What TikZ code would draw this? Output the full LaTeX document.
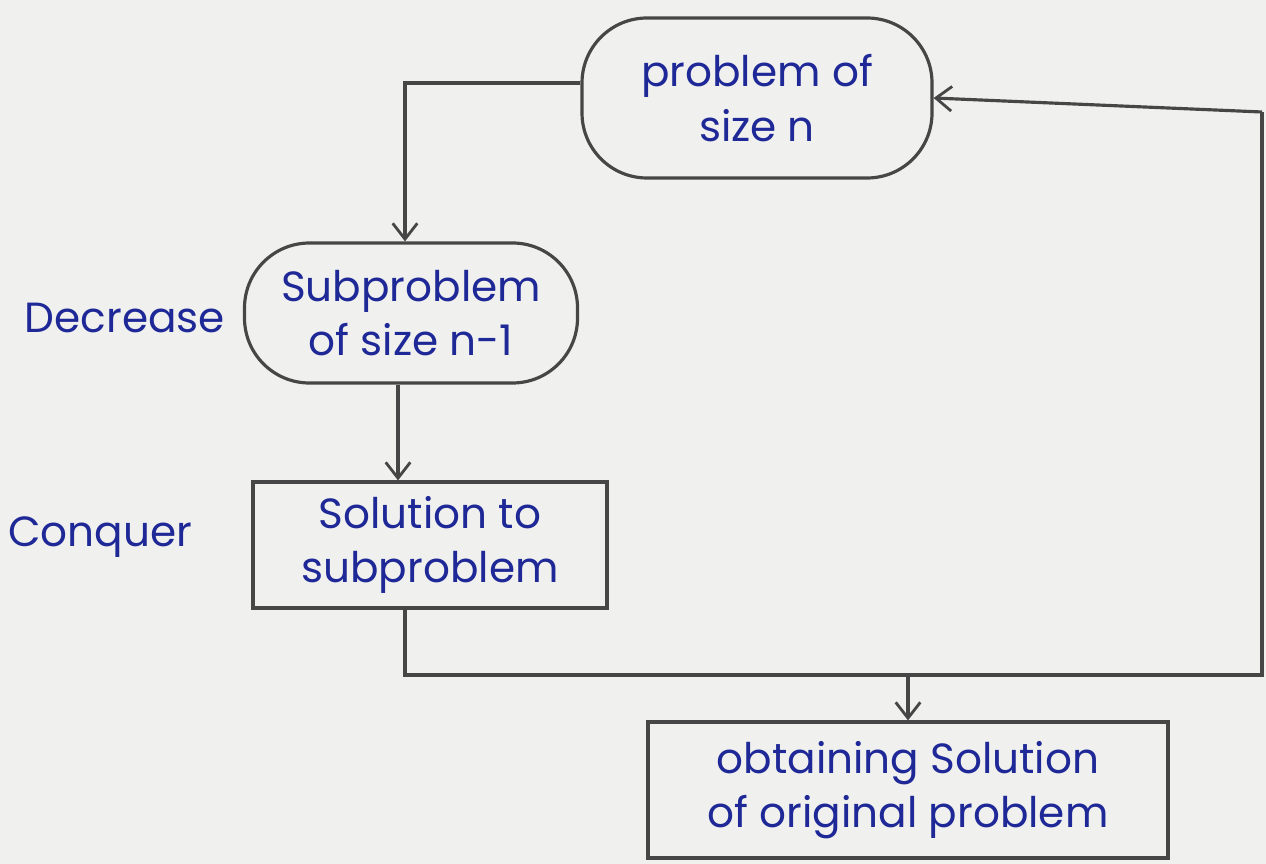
\documentclass[tikz,border=0pt]{standalone}
\usepackage{fontspec}
\setmainfont{Poppins}
\usetikzlibrary{arrows.meta,positioning}
\definecolor{ink}{RGB}{30,40,150}
\definecolor{pencil}{RGB}{70,70,70}
\definecolor{paper}{RGB}{240,240,238}
\begin{document}
\begin{tikzpicture}[x=0.02cm,y=-0.02cm,
  every node/.style={text=ink, font=\fontsize{24}{31}\selectfont, align=center},
  boxline/.style={draw=pencil, line width=1.8pt},
  roundbox/.style={boxline, rounded corners=1.3cm, inner sep=0pt},
  sqbox/.style={boxline, inner sep=0pt},
  lab/.style={font=\fontsize{24}{31}\selectfont},
  conn/.style={draw=pencil, line width=1.8pt},
  arr/.style={conn, -{Straight Barb[length=9pt,width=14pt,line width=1.6pt]}}]
\fill[paper] (0,0) rectangle (1266,864);
\useasboundingbox (0,0) rectangle (1266,864);

\node[roundbox, minimum width=350*0.02cm, minimum height=160*0.02cm] (prob) at (757,98) {problem of\\size n};
\node[roundbox, minimum width=333*0.02cm, minimum height=140*0.02cm] (sub) at (411,313) {Subproblem\\of size n-1};
\node[sqbox, minimum width=354*0.02cm, minimum height=126*0.02cm] (sol) at (430,545) {Solution to\\subproblem};
\node[sqbox, minimum width=520*0.02cm, minimum height=136*0.02cm] (obt) at (908,790) {obtaining Solution\\of original problem};
\node[lab] (dec) at (125,318) {Decrease};
\node[lab] (con) at (100,537) {Conquer};

\coordinate (r1) at (1262,675);
\coordinate (r2) at (1262,112);

\draw[arr] ([yshift=0.3cm]prob.west) -| ([xshift=-6*0.02cm]sub.north);
\draw[arr] ([xshift=-13*0.02cm]sub.south) -- ([xshift=-13*0.02cm]sub.south |- sol.north);
\draw[conn] ([xshift=-25*0.02cm]sol.south) |- (r1) -- (r2);
\draw[arr] (r2) -- (prob.east);
\draw[arr] (obt.north |- r1) -- (obt.north);
\end{tikzpicture}
\end{document}
